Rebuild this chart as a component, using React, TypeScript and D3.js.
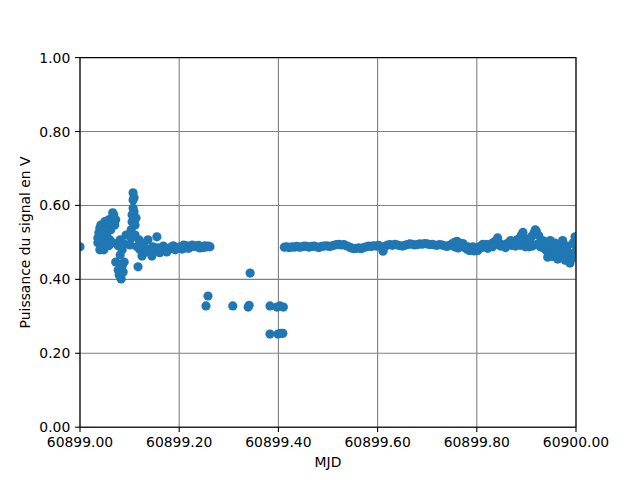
import * as d3 from 'd3';

// MJD = MJD0 + fraction of the day
const MJD0 = 60899;

// first burst of readings, noisy start
const earlyFrac = [
  0.000, 0.036, 0.036, 0.038, 0.040, 0.042, 0.044, 0.046, 0.048, 0.050,
  0.052, 0.054, 0.056, 0.058, 0.060, 0.062, 0.064, 0.066, 0.068, 0.070,
  0.072, 0.066, 0.058, 0.048, 0.040, 0.077, 0.081, 0.085, 0.089, 0.093,
  0.072, 0.077, 0.079, 0.083, 0.085, 0.087, 0.089, 0.081,
  0.101, 0.103, 0.103, 0.105, 0.105, 0.107, 0.107, 0.107, 0.109, 0.109,
  0.111, 0.111, 0.113,
  0.115, 0.117, 0.119, 0.121, 0.123, 0.125, 0.129, 0.133, 0.137, 0.141,
  0.145, 0.147, 0.151, 0.155, 0.157, 0.161,
  0.165, 0.171, 0.175, 0.181, 0.185, 0.192, 0.196, 0.202, 0.206, 0.212,
  0.216, 0.222, 0.226, 0.232, 0.236, 0.242, 0.246, 0.252, 0.256, 0.262,
  0.168, 0.178, 0.188, 0.199, 0.209, 0.219, 0.229, 0.239, 0.249, 0.259,
];
const earlyPower = [
  0.488, 0.499, 0.512, 0.526, 0.539, 0.547, 0.491, 0.507, 0.528, 0.556,
  0.493, 0.518, 0.539, 0.561, 0.507, 0.534, 0.566, 0.580, 0.575, 0.547,
  0.561, 0.499, 0.491, 0.480, 0.480, 0.491, 0.507, 0.480, 0.496, 0.520,
  0.447, 0.425, 0.412, 0.401, 0.436, 0.420, 0.447, 0.466,
  0.493, 0.512, 0.534, 0.556, 0.575, 0.593, 0.615, 0.634, 0.621, 0.583,
  0.547, 0.520, 0.566,
  0.488, 0.434, 0.507, 0.480, 0.499, 0.463, 0.488, 0.474, 0.507, 0.482,
  0.463, 0.488, 0.477, 0.515, 0.485, 0.472,
  0.480, 0.485, 0.474, 0.482, 0.488, 0.480, 0.485, 0.488, 0.482, 0.485,
  0.491, 0.488, 0.493, 0.491, 0.488, 0.485, 0.488, 0.491, 0.488, 0.488,
  0.490, 0.484, 0.491, 0.486, 0.493, 0.484, 0.489, 0.492, 0.486, 0.490,
];

// isolated low readings in the gap
const gapFrac = [
  0.254, 0.258, 0.308, 0.339, 0.341, 0.343,
  0.383, 0.397, 0.403, 0.410, 0.383, 0.399, 0.405, 0.409,
];
const gapPower = [
  0.328, 0.355, 0.328, 0.325, 0.330, 0.417,
  0.328, 0.325, 0.328, 0.325, 0.252, 0.252, 0.254, 0.254,
];

// steady plateau from 0.41 to the end of the day
const bandFrac = [
  0.412, 0.417, 0.422, 0.427, 0.432, 0.437, 0.442, 0.447, 0.452, 0.457,
  0.462, 0.467, 0.472, 0.477, 0.482, 0.487, 0.492, 0.497, 0.502, 0.507,
  0.512, 0.517, 0.522, 0.527, 0.532, 0.537, 0.542, 0.547, 0.552, 0.557,
  0.562, 0.567, 0.572, 0.577, 0.582, 0.587, 0.592, 0.597, 0.602, 0.607,
  0.611, 0.615, 0.620, 0.625, 0.630, 0.635, 0.640, 0.645, 0.650, 0.655,
  0.660, 0.665, 0.670, 0.675, 0.680, 0.685, 0.690, 0.695, 0.700, 0.705,
  0.710, 0.715, 0.720, 0.725, 0.730, 0.735, 0.740, 0.745, 0.750, 0.755,
  0.760, 0.765, 0.770, 0.775, 0.780, 0.785, 0.790, 0.795, 0.800, 0.805,
  0.810, 0.815, 0.820, 0.825, 0.830, 0.835, 0.840, 0.845, 0.850, 0.855,
  0.860, 0.865, 0.870, 0.875, 0.880, 0.885, 0.890, 0.895, 0.900, 0.905,
  0.910, 0.915, 0.920, 0.925, 0.930, 0.935, 0.940, 0.945, 0.950, 0.955,
  0.960, 0.965, 0.970, 0.975, 0.980, 0.985, 0.990, 0.995, 1.000,
];
const bandPower = [
  0.487, 0.488, 0.486, 0.488, 0.487, 0.489, 0.487, 0.488, 0.490, 0.489,
  0.487, 0.489, 0.490, 0.488, 0.486, 0.489, 0.490, 0.491, 0.489, 0.490,
  0.492, 0.494, 0.495, 0.493, 0.494, 0.491, 0.488, 0.485, 0.483, 0.484,
  0.485, 0.483, 0.486, 0.488, 0.490, 0.489, 0.491, 0.490, 0.492, 0.488,
  0.476, 0.489, 0.493, 0.494, 0.492, 0.495, 0.493, 0.491, 0.490, 0.492,
  0.494, 0.496, 0.495, 0.493, 0.494, 0.496, 0.495, 0.497, 0.496, 0.494,
  0.495, 0.493, 0.492, 0.494, 0.493, 0.491, 0.489, 0.492, 0.496, 0.500,
  0.503, 0.498, 0.490, 0.486, 0.482, 0.478, 0.480, 0.477, 0.483, 0.488,
  0.486, 0.491, 0.494, 0.490, 0.497, 0.501, 0.505, 0.498, 0.494, 0.490,
  0.496, 0.499, 0.492, 0.502, 0.506, 0.510, 0.520, 0.512, 0.498, 0.488,
  0.515, 0.525, 0.530, 0.518, 0.500, 0.485, 0.478, 0.470, 0.490, 0.482,
  0.465, 0.475, 0.495, 0.480, 0.460, 0.448, 0.470, 0.500, 0.490,
];

// extra scatter around the plateau at the end of the day
const spreadFrac = [
  0.755, 0.762, 0.772, 0.782, 0.792, 0.802, 0.812, 0.822, 0.832, 0.842,
  0.848, 0.858, 0.868, 0.878, 0.888, 0.893, 0.898, 0.908, 0.912, 0.918,
  0.922, 0.928, 0.933, 0.938, 0.943, 0.948, 0.953, 0.958, 0.963, 0.968,
  0.973, 0.978, 0.983, 0.988, 0.993, 0.998, 0.997,
];
const spreadPower = [
  0.488, 0.485, 0.497, 0.488, 0.488, 0.478, 0.495, 0.484, 0.488, 0.512,
  0.490, 0.486, 0.505, 0.490, 0.492, 0.527, 0.488, 0.500, 0.490, 0.534,
  0.495, 0.488, 0.505, 0.495, 0.460, 0.505, 0.462, 0.498, 0.455, 0.468,
  0.505, 0.452, 0.490, 0.444, 0.458, 0.515, 0.470,
];

const xTicks = [60899.0, 60899.2, 60899.4, 60899.6, 60899.8, 60900.0];
const yTicks = [0, 0.2, 0.4, 0.6, 0.8, 1.0];

const width = 640;
const height = 480;
const margin = { top: 57.6, right: 64, bottom: 52.8, left: 80 };
const font = 'DejaVu Sans, sans-serif';
const blue = '#1f77b4';

const points = [
  ...earlyFrac.map((f, i) => [MJD0 + f, earlyPower[i]]),
  ...gapFrac.map((f, i) => [MJD0 + f, gapPower[i]]),
  ...bandFrac.map((f, i) => [MJD0 + f, bandPower[i]]),
  ...spreadFrac.map((f, i) => [MJD0 + f, spreadPower[i]]),
];

export default function App() {
  const x = d3.scaleLinear().domain([60899, 60900]).range([margin.left, width - margin.right]);
  const y = d3.scaleLinear().domain([0, 1]).range([height - margin.bottom, margin.top]);
  const fmt = d3.format('.2f');
  const [x0, x1] = x.range();
  const [y0, y1] = y.range();

  return (
    <div style={{ position: 'fixed', left: 0, top: 0 }}>
      <svg width={width} height={height} style={{ display: 'block', background: '#fff' }}>
        <defs>
          <clipPath id="plot">
            <rect x={x0} y={y1} width={x1 - x0} height={y0 - y1} />
          </clipPath>
        </defs>

        {/* grid */}
        <g stroke="#808080" strokeWidth={1.1}>
          {xTicks.map(t => (
            <line key={'gx' + t} x1={x(t)} x2={x(t)} y1={y0} y2={y1} />
          ))}
          {yTicks.map(t => (
            <line key={'gy' + t} x1={x0} x2={x1} y1={y(t)} y2={y(t)} />
          ))}
        </g>

        <g clipPath="url(#plot)" fill={blue}>
          {points.map((d, i) => (
            <circle key={i} cx={x(d[0])} cy={y(d[1])} r={4.6} />
          ))}
        </g>

        {/* spines */}
        <rect x={x0} y={y1} width={x1 - x0} height={y0 - y1} fill="none" stroke="#000" strokeWidth={1.1} />

        {/* x axis */}
        <g fontFamily={font} fontSize={13.9} fill="#000">
          {xTicks.map(t => (
            <g key={'tx' + t}>
              <line x1={x(t)} x2={x(t)} y1={y0} y2={y0 + 4.9} stroke="#000" strokeWidth={1.1} />
              <text x={x(t)} y={y0 + 9.7} textAnchor="middle" dominantBaseline="hanging">{fmt(t)}</text>
            </g>
          ))}
          <text x={(x0 + x1) / 2} y={467} textAnchor="middle">MJD</text>
        </g>

        {/* y axis */}
        <g fontFamily={font} fontSize={13.9} fill="#000">
          {yTicks.map(t => (
            <g key={'ty' + t}>
              <line x1={x0 - 4.9} x2={x0} y1={y(t)} y2={y(t)} stroke="#000" strokeWidth={1.1} />
              <text x={x0 - 9.7} y={y(t)} textAnchor="end" dominantBaseline="central">{fmt(t)}</text>
            </g>
          ))}
          <text transform={`translate(30,${(y0 + y1) / 2}) rotate(-90)`} textAnchor="middle">
            Puissance du signal en V
          </text>
        </g>
      </svg>
    </div>
  );
}
